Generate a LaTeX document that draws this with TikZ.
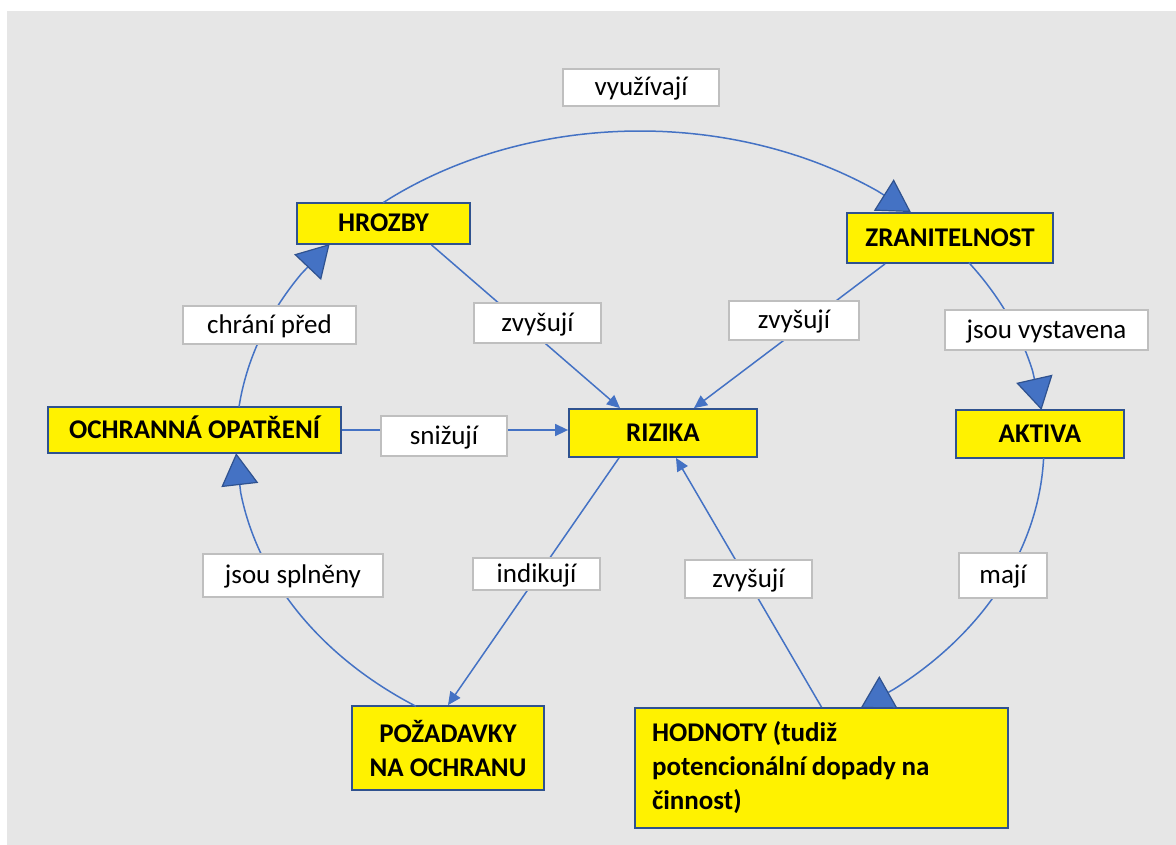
\documentclass[tikz,border=0pt]{standalone}
\usepackage{fontspec}
\setmainfont{Carlito}
\usetikzlibrary{arrows.meta}
\definecolor{bggray}{HTML}{E6E6E6}
\definecolor{boxline}{HTML}{2F528F}
\definecolor{conncol}{HTML}{4472C4}
\definecolor{lblline}{HTML}{BFBFBF}
\newcommand\ellarc[3]{%
  \draw[barrow] plot[domain=#1:#2,samples=70] ({640+404*cos(\x)},{445+314*sin(\x)})
    -- ({640+404*cos(#3)},{445+314*sin(#3)});}
\newcommand\tightspaces{\spaceskip=0.21em\relax}
\begin{document}
\begin{tikzpicture}[x=1pt,y=-1pt,
  ybox/.style={draw=boxline,line width=1.8pt,fill=yellow,font=\fontsize{27}{34}\selectfont\bfseries,inner sep=0pt},
  wlab/.style={draw=lblline,line width=2pt,fill=white,font=\fontsize{27}{34}\selectfont,inner sep=0pt},
  one/.style={text height=17pt,text depth=0.5pt},
  conn/.style={draw=conncol,line width=1.5pt},
  sarrow/.style={conn,-{Triangle[length=13pt,width=12pt]}},
  barrow/.style={conn,-{Triangle[length=32pt,width=37pt,color=boxline,fill=conncol,line width=1.2pt]}}
]
\useasboundingbox (0,0) rectangle (1176,845);
\fill[bggray] (7,11) rectangle (1176,845);

% main boxes
\node[ybox,one,minimum width=173pt,minimum height=41pt] (hro) at (383.5,223.5) {HROZBY};
\node[ybox,one,minimum width=206pt,minimum height=50pt] (zra) at (950,238) {ZRANITELNOST};
\node[ybox,one,minimum width=293pt,minimum height=46pt] (och) at (194.5,430) {OCHRANNÁ OPATŘENÍ};
\node[ybox,one,minimum width=188pt,minimum height=48pt] (riz) at (663,433) {RIZIKA};
\node[ybox,one,minimum width=168pt,minimum height=48pt] (akt) at (1040,434) {AKTIVA};
\node[ybox,align=center,minimum width=192pt,minimum height=84pt] (poz) at (448,748) {POŽADAVKY\\NA OCHRANU};
\node[ybox,align=left,text width=339pt,inner xsep=17pt,minimum height=120pt] (hod) at (821.5,768)
      {\tightspaces HODNOTY (tudiž\\potencionální dopady na\\činnost)};

% straight connectors
\draw[sarrow] ([xshift=48pt]hro.south) -- ([xshift=-43pt]riz.north);
\draw[sarrow] ([xshift=-65pt]zra.south) -- ([xshift=31pt]riz.north);
\draw[sarrow] (och.east) -- (och.east -| riz.west);
\draw[sarrow] (hod.north) -- ([xshift=13pt]riz.south);
\draw[sarrow] ([xshift=-44pt]riz.south) -- (poz.north);

% curved connectors (arcs of one ellipse)
\ellarc{-129.5}{-54}{-47.9}   % HROZBY -> ZRANITELNOST
\ellarc{-35.5}{-13.6}{-6.4}   % ZRANITELNOST -> AKTIVA
\ellarc{2.4}{51}{56.9}        % AKTIVA -> HODNOTY
\ellarc{123.7}{171.3}{178.5}  % POZADAVKY -> OCHRANNA OPATRENI
\ellarc{187}{213}{219.8}      % OCHRANNA OPATRENI -> HROZBY

% labels
\node[wlab,one,minimum width=156pt,minimum height=37pt] (lvyu) at (641,87.5) {využívají};
\node[wlab,one,minimum width=173pt,minimum height=38pt] (lchr) at (269.5,325) {chrání před};
\node[wlab,one,minimum width=127pt,minimum height=40pt] (lzv1) at (537.5,323) {zvyšují};
\node[wlab,one,minimum width=130pt,minimum height=39pt] (lzv2) at (794,320.5) {zvyšují};
\node[wlab,one,minimum width=126pt,minimum height=40pt] (lsni) at (444,436) {snižují};
\node[wlab,one,minimum width=203pt,minimum height=40pt] (ljsv) at (1046.5,330) {jsou vystavena};
\node[wlab,one,minimum width=180pt,minimum height=43pt] (ljss) at (293,575.5) {jsou splněny};
\node[wlab,one,minimum width=127pt,minimum height=32pt] (lind) at (536.5,574) {indikují};
\node[wlab,one,minimum width=127pt,minimum height=38pt] (lzv3) at (748.5,579) {zvyšují};
\node[wlab,one,minimum width=88pt,minimum height=45pt] (lmaj) at (1003,575.5) {mají};
\end{tikzpicture}
\end{document}
